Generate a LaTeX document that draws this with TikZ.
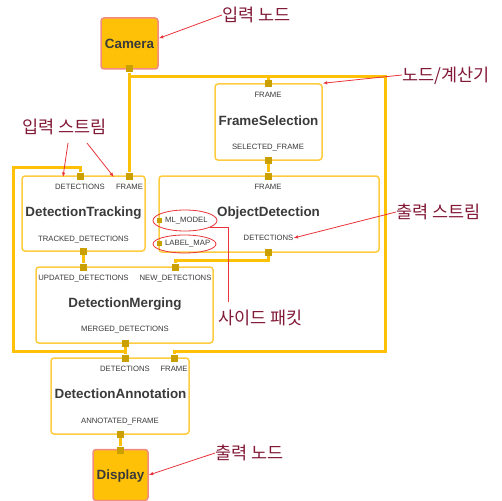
\documentclass[tikz,border=0pt]{standalone}
\usepackage{fontspec}
\setmainfont{Liberation Sans}
\newfontfamily\kofont{Noto Sans CJK KR}
\usetikzlibrary{positioning,backgrounds,shapes.geometric,arrows.meta}
\definecolor{amber}{RGB}{255,193,7}
\definecolor{boxline}{RGB}{255,204,64}
\definecolor{portfill}{RGB}{201,160,0}
\definecolor{iobord}{RGB}{242,139,130}
\definecolor{txtgray}{RGB}{58,58,58}
\definecolor{notered}{RGB}{130,25,55}
\definecolor{pointred}{RGB}{232,52,58}
\tikzset{
  calcbox/.style={draw=boxline, line width=1.5pt, rounded corners=3pt, fill=white},
  ionode/.style={draw=iobord, fill=amber, line width=1.5pt, rounded corners=3pt,
    font=\fontsize{13.4}{15}\selectfont\bfseries, text=txtgray, text height=9.6pt, text depth=0pt},
  portbox/.style={fill=portfill, minimum size=7pt, inner sep=0pt},
  sidebox/.style={portbox, minimum size=5pt},
  streamline/.style={draw=amber, line width=3pt},
  lbl/.style={font=\fontsize{7.7}{9}\selectfont, text=txtgray, inner sep=0pt, text height=5.5pt, text depth=0pt},
  ttl/.style={font=\fontsize{13.4}{15}\selectfont\bfseries, text=txtgray, inner sep=0pt, text height=9.6pt, text depth=0pt},
  koreannote/.style={font=\kofont\fontsize{17.5}{20}\selectfont, text=notered, inner sep=0pt,
    text height=13.4pt, text depth=0pt, anchor=west},
  pointer/.style={draw=pointred, line width=0.8pt, -{Latex[length=4.5pt,width=3.5pt]}},
  ring/.style={draw=pointred, line width=0.8pt, ellipse, inner sep=0pt},
}
\begin{document}
\begin{tikzpicture}[x=1pt, y=-1pt]
\useasboundingbox (0,0) rectangle (502,500);
% boxes
\node[ionode, minimum width=57pt, minimum height=51pt] (camera) at (129.5,43.5) {Camera};
\node[calcbox, minimum width=107pt, minimum height=76pt] (fsel) at (268.5,122) {};
\node[calcbox, minimum width=220pt, minimum height=76pt] (objdet) at (269,214) {};
\node[calcbox, minimum width=123pt, minimum height=75pt] (dtrack) at (83.5,213.5) {};
\node[calcbox, minimum width=177pt, minimum height=76pt] (dmerge) at (124.5,305) {};
\node[calcbox, minimum width=138pt, minimum height=76pt] (dannot) at (120,396) {};
\node[ionode, minimum width=55pt, minimum height=51pt] (display) at (120.5,475) {Display};
% titles
\node[ttl] (fseltitle) at (268.5,121) {FrameSelection};
\node[ttl] (objdettitle) at (268.5,212) {ObjectDetection};
\node[ttl] (dtracktitle) at (83.5,212) {DetectionTracking};
\node[ttl] (dmergetitle) at (125,303) {DetectionMerging};
\node[ttl] (dannottitle) at (120.5,394) {DetectionAnnotation};
% ports
\node[portbox] (camout) at (129,69) {};
\node[portbox] (fsin) at (268,84) {};
\node[portbox] (fsout) at (268,160) {};
\node[portbox] (odin) at (268,176) {};
\node[portbox] (odout) at (268,252) {};
\node[sidebox] (odml) at (159,220) {};
\node[sidebox] (odlm) at (159,243) {};
\node[portbox] (dtdet) at (80,176) {};
\node[portbox] (dtframe) at (129,176) {};
\node[portbox] (dtout) at (83,251) {};
\node[portbox] (dmupd) at (83,267) {};
\node[portbox] (dmnew) at (175,267) {};
\node[portbox] (dmout) at (125,343) {};
\node[portbox] (dadet) at (125,358) {};
\node[portbox] (daframe) at (174,358) {};
\node[portbox] (daout) at (120,434) {};
\node[portbox] (dispin) at (120,450) {};
% stream names
\node[lbl] (fsinl) at (268,95) {FRAME};
\node[lbl] (fsoutl) at (268,147) {SELECTED\_FRAME};
\node[lbl] (odinl) at (268,187) {FRAME};
\node[lbl] (odoutl) at (268.5,238) {DETECTIONS};
\node[lbl, anchor=west] (odmll) at (165,220) {ML\_MODEL};
\node[lbl, anchor=west] (odlml) at (165,243) {LABEL\_MAP};
\node[lbl] (dtdetl) at (80,187) {DETECTIONS};
\node[lbl] (dtframel) at (129.5,187) {FRAME};
\node[lbl] (dtoutl) at (83.5,239) {TRACKED\_DETECTIONS};
\node[lbl] (dmupdl) at (83.5,278) {UPDATED\_DETECTIONS};
\node[lbl] (dmnewl) at (175.5,278) {NEW\_DETECTIONS};
\node[lbl] (dmoutl) at (125,329) {MERGED\_DETECTIONS};
\node[lbl] (dadetl) at (125,369) {DETECTIONS};
\node[lbl] (daframel) at (174,369) {FRAME};
\node[lbl] (daoutl) at (120,421) {ANNOTATED\_FRAME};
% streams
\coordinate (busNE) at (385,77);
\coordinate (busSE) at (385,351);
\coordinate (busSW) at (13,351);
\coordinate (busNW) at (13,167);
\begin{scope}[on background layer]
\draw[streamline] (camout) -- (dtframe);
\draw[streamline] (camout |- busNE) -- (busNE) -- (busSE) -| (daframe);
\draw[streamline] (fsin) -- (fsin |- busNE);
\draw[streamline] (fsout) -- (odin);
\draw[streamline] (odout) -- ++(0,8) -| (dmnew);
\draw[streamline] (dtout) -- (dmupd);
\draw[streamline] (dmout) -- (dadet);
\draw[streamline] (dmout |- busSW) -- (busSW) -- (busNW) -| (dtdet);
\draw[streamline] (daout) -- (dispin);
\end{scope}
% notes
\node[koreannote] (innode) at (222,15) {입력 노드};
\node[koreannote] (calcnote) at (402,75) {노드/계산기};
\node[koreannote] (instream) at (22,127) {입력 스트림};
\node[koreannote] (outstream) at (396,212) {출력 스트림};
\node[koreannote] (sidepkt) at (218,318) {사이드 패킷};
\node[koreannote] (outnode) at (215,453) {출력 노드};
\node[ring, minimum width=64pt, minimum height=21pt] (mlring) at (185,220.5) {};
\node[ring, minimum width=63pt, minimum height=18pt] (lmring) at (184.5,244) {};
\coordinate (instreamA) at (68,143);
\coordinate (instreamB) at (87,143);
\draw[pointer] (innode.west) -- (camera.10);
\draw[pointer] (calcnote.west) -- (fsel.north east);
\draw[pointer] (instreamA) -- ([xshift=8pt,yshift=7pt]dtdetl.north west);
\draw[pointer] (instreamB) -- ([xshift=-2pt,yshift=7pt]dtframel.north west);
\draw[pointer] (outstream.west) -- (odoutl.east);
\draw[pointer] (outnode.west) -- (display.east);
\draw[draw=pointred, line width=0.8pt] ([xshift=10pt,yshift=9pt]sidepkt.north west) |- (mlring.-15);
\end{tikzpicture}
\end{document}
